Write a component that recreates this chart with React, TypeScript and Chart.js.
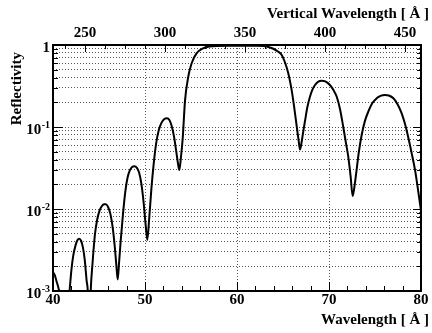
import React, { useEffect, useRef } from 'react';
import { Chart, registerables } from 'chart.js';

Chart.register(...registerables);

// ---- data ----
const WAVELENGTH = [
  40.0, 40.2, 40.4, 40.6, 40.8, 41.0, 41.3, 41.55, 41.8, 42.0, 42.2, 42.45, 42.65, 42.85,
  43.05, 43.25, 43.45, 43.65, 43.8, 43.93, 44.1, 44.3, 44.55, 44.8, 45.05, 45.3, 45.55,
  45.75, 46.0, 46.25, 46.5, 46.7, 46.88, 47.03, 47.18, 47.35, 47.6, 47.85, 48.1, 48.35,
  48.6, 48.85, 49.1, 49.35, 49.6, 49.85, 50.05, 50.25, 50.45, 50.7, 50.95, 51.2, 51.5,
  51.8, 52.1, 52.38, 52.65, 52.9, 53.15, 53.4, 53.6, 53.73, 53.9, 54.1, 54.35, 54.7,
  55.07, 55.6, 56.3, 57.0, 57.8, 59.0, 60.0, 61.0, 62.0, 62.9, 63.5, 63.95, 64.4, 64.86,
  65.2, 65.58, 65.9, 66.2, 66.5, 66.7, 66.85, 67.0, 67.2, 67.4, 67.65, 67.93, 68.2, 68.48,
  68.8, 69.2, 69.6, 70.1, 70.5, 70.84, 71.2, 71.55, 71.85, 72.1, 72.35, 72.57, 72.8, 73.0,
  73.25, 73.55, 73.9, 74.27, 74.7, 75.18, 75.6, 76.09, 76.5, 77.0, 77.45, 77.9, 78.25,
  78.6, 79.0, 79.35, 79.65, 80.0,
];
const REFLECTIVITY = [
  1.7e-3, 1.55e-3, 1.3e-3, 1.08e-3, 8.5e-4, 5e-4, 1.5e-4, 5e-4, 1.0e-3, 1.8e-3, 2.7e-3, 3.6e-3, 4.15e-3, 4.35e-3,
  4.1e-3, 3.4e-3, 2.4e-3, 1.35e-3, 9e-4, 2e-4, 1.0e-3, 2.2e-3, 4.8e-3, 7.4e-3, 9.5e-3, 1.08e-2, 1.14e-2,
  1.14e-2, 1.05e-2, 8.6e-3, 5.8e-3, 3.6e-3, 2.1e-3, 1.38e-3, 2.2e-3, 4.0e-3, 8.5e-3, 1.6e-2, 2.4e-2, 2.95e-2,
  3.25e-2, 3.33e-2, 3.2e-2, 2.8e-2, 2.05e-2, 1.2e-2, 6.8e-3, 4.2e-3, 7.5e-3, 1.8e-2, 3.6e-2, 6.2e-2, 9.2e-2,
  0.113, 0.125, 0.128, 0.122, 0.103, 0.077, 0.05, 0.035, 0.03, 0.042, 0.073, 0.21, 0.41,
  0.6, 0.79, 0.91, 0.955, 0.975, 0.98, 0.98, 0.98, 0.978, 0.97, 0.94, 0.9, 0.84, 0.755,
  0.62, 0.45, 0.3, 0.18, 0.1, 0.068, 0.053, 0.063, 0.088, 0.12, 0.175, 0.234, 0.285, 0.325,
  0.355, 0.367, 0.36, 0.325, 0.28, 0.234, 0.165, 0.1, 0.063, 0.043, 0.025, 0.0144, 0.02, 0.03,
  0.05, 0.08, 0.118, 0.154, 0.195, 0.224, 0.24, 0.246, 0.242, 0.224, 0.19, 0.147, 0.11,
  0.076, 0.047, 0.03, 0.018, 0.0095,
];

const X_MIN = 40;
const X_MAX = 80;
const X_TICKS = [40, 50, 60, 70, 80];
const X_MINOR_STEP = 2;

const VW_MIN = 230;
const VW_MAX = 460;
const VW_TICKS = [250, 300, 350, 400, 450];
const VW_MINOR_STEP = 12.5;

const Y_MIN = 1e-3;
const Y_MAX = 1;
const Y_DECADES = [1e-3, 1e-2, 1e-1, 1];
const Y_LABEL_BASE = ['10', '10', '10', '1'];
const Y_LABEL_EXP = ['-3', '-2', '-1', ''];
const Y_MINOR_MULT = [2, 3, 4, 5, 6, 7, 8, 9];

const X_TITLE = 'Wavelength [ Å ]';
const X2_TITLE = 'Vertical Wavelength [ Å ]';
const Y_TITLE = 'Reflectivity';

const FONT = "'Liberation Serif', 'Times New Roman', 'DejaVu Serif', serif";
const GRID_COLOR = '#555';

function yGridValues(): number[] {
  const out: number[] = [];
  for (let i = 0; i < Y_DECADES.length - 1; i++) {
    out.push(Y_DECADES[i]);
    for (const m of Y_MINOR_MULT) out.push(Y_DECADES[i] * m);
  }
  out.push(Y_DECADES[Y_DECADES.length - 1]);
  return out;
}

const framePlugin = {
  id: 'rootFrame',
  afterDraw(chart: any) {
    const { ctx, chartArea, scales } = chart;
    const { left, right, top, bottom } = chartArea;
    const sx = scales.x;
    const sx2 = scales.x2;
    const sy = scales.y;
    ctx.save();
    ctx.strokeStyle = '#000';
    ctx.lineWidth = 1;
    ctx.setLineDash([]);
    const line = (x1: number, y1: number, x2: number, y2: number) => {
      ctx.beginPath();
      ctx.moveTo(x1, y1);
      ctx.lineTo(x2, y2);
      ctx.stroke();
    };
    // bottom ticks (inward)
    for (let v = X_MIN; v <= X_MAX + 1e-9; v += X_MINOR_STEP) {
      const px = Math.round(sx.getPixelForValue(v)) + 0.5;
      const major = X_TICKS.includes(Math.round(v * 1000) / 1000);
      line(px, bottom, px, bottom - (major ? 9 : 5));
    }
    // top ticks (inward)
    for (let v = VW_TICKS[0] - VW_MINOR_STEP * 1; v <= VW_MAX; v += VW_MINOR_STEP) {
      if (v < VW_MIN) continue;
      const px = Math.round(sx2.getPixelForValue(v)) + 0.5;
      const major = VW_TICKS.includes(v);
      line(px, top, px, top + (major ? 7 : 4));
    }
    // left & right ticks
    for (const v of yGridValues()) {
      const py = Math.round(sy.getPixelForValue(v)) + 0.5;
      const major = Y_DECADES.includes(v);
      line(left, py, left + (major ? 10 : 5), py);
      line(right, py, right - (major ? 8 : 4), py);
    }
    // frame
    ctx.lineWidth = 2;
    ctx.strokeRect(left, top, right - left, bottom - top);

    // y labels with superscripts
    ctx.fillStyle = '#000';
    ctx.textBaseline = 'middle';
    ctx.textAlign = 'right';
    const labelRight = left - 3;
    Y_DECADES.forEach((v, i) => {
      const py = sy.getPixelForValue(v);
      const exp = Y_LABEL_EXP[i];
      let xr = labelRight;
      if (exp) {
        ctx.font = `bold 10px ${FONT}`;
        const w = ctx.measureText(exp).width;
        ctx.fillText(exp, xr, py - 2);
        xr -= w + 0.5;
      }
      ctx.font = `bold 15px ${FONT}`;
      ctx.fillText(Y_LABEL_BASE[i], xr, py + 3);
    });

    // titles
    ctx.font = `bold 15px ${FONT}`;
    ctx.textAlign = 'right';
    ctx.textBaseline = 'middle';
    ctx.fillText(X_TITLE, 429, 320);
    ctx.fillText(X2_TITLE, 429, 14);
    ctx.save();
    ctx.translate(17.5, 52);
    ctx.rotate(-Math.PI / 2);
    ctx.fillText(Y_TITLE, 0, 0);
    ctx.restore();

    ctx.restore();
  },
};

export default function App() {
  const canvasRef = useRef<HTMLCanvasElement | null>(null);

  useEffect(() => {
    document.body.style.margin = '0';
    const canvas = canvasRef.current;
    if (!canvas) return;
    const tickFont = { family: FONT, size: 15, weight: 'bold' as const, lineHeight: 1 };
    const chart = new Chart(canvas, {
      type: 'line',
      data: {
        datasets: [
          {
            data: WAVELENGTH.map((w, i) => ({ x: w, y: REFLECTIVITY[i] })),
            borderColor: '#000',
            backgroundColor: '#000',
            borderWidth: 2,
            pointRadius: 0,
            cubicInterpolationMode: 'monotone',
            fill: false,
            xAxisID: 'x',
            yAxisID: 'y',
          },
        ],
      },
      options: {
        animation: false,
        responsive: false,
        devicePixelRatio: 1,
        layout: { padding: { left: 0, right: 11, top: 0, bottom: 0 } },
        plugins: { legend: { display: false }, tooltip: { enabled: false }, title: { display: false } },
        events: [],
        scales: {
          x: {
            type: 'linear',
            position: 'bottom',
            min: X_MIN,
            max: X_MAX,
            afterBuildTicks: (s: any) => {
              s.ticks = X_TICKS.map((v) => ({ value: v }));
            },
            afterFit: (s: any) => {
              s.height = 42;
            },
            ticks: {
              font: tickFont,
              color: '#000',
              padding: 2,
              maxRotation: 0,
              autoSkip: false,
              callback: (v: any) => String(v),
            },
            grid: { color: GRID_COLOR, lineWidth: 1, drawTicks: false },
            border: { display: false, dash: [1, 2] },
          },
          x2: {
            type: 'linear',
            position: 'top',
            min: VW_MIN,
            max: VW_MAX,
            afterBuildTicks: (s: any) => {
              s.ticks = VW_TICKS.map((v) => ({ value: v }));
            },
            afterFit: (s: any) => {
              s.height = 45;
            },
            ticks: {
              font: tickFont,
              color: '#000',
              padding: 4,
              maxRotation: 0,
              autoSkip: false,
              callback: (v: any) => String(v),
            },
            grid: { display: false, drawTicks: false },
            border: { display: false },
          },
          y: {
            type: 'logarithmic',
            position: 'left',
            min: Y_MIN,
            max: Y_MAX,
            afterBuildTicks: (s: any) => {
              s.ticks = yGridValues().map((v) => ({ value: v }));
            },
            afterFit: (s: any) => {
              s.width = 53;
            },
            ticks: { display: false },
            grid: { color: GRID_COLOR, lineWidth: 1, drawTicks: false },
            border: { display: false, dash: [1, 2] },
          },
        },
      } as any,
      plugins: [framePlugin],
    });
    return () => chart.destroy();
  }, []);

  return (
    <div style={{ width: 432, height: 333, background: '#fff' }}>
      <canvas ref={canvasRef} width={432} height={333} style={{ display: 'block' }} />
    </div>
  );
}
